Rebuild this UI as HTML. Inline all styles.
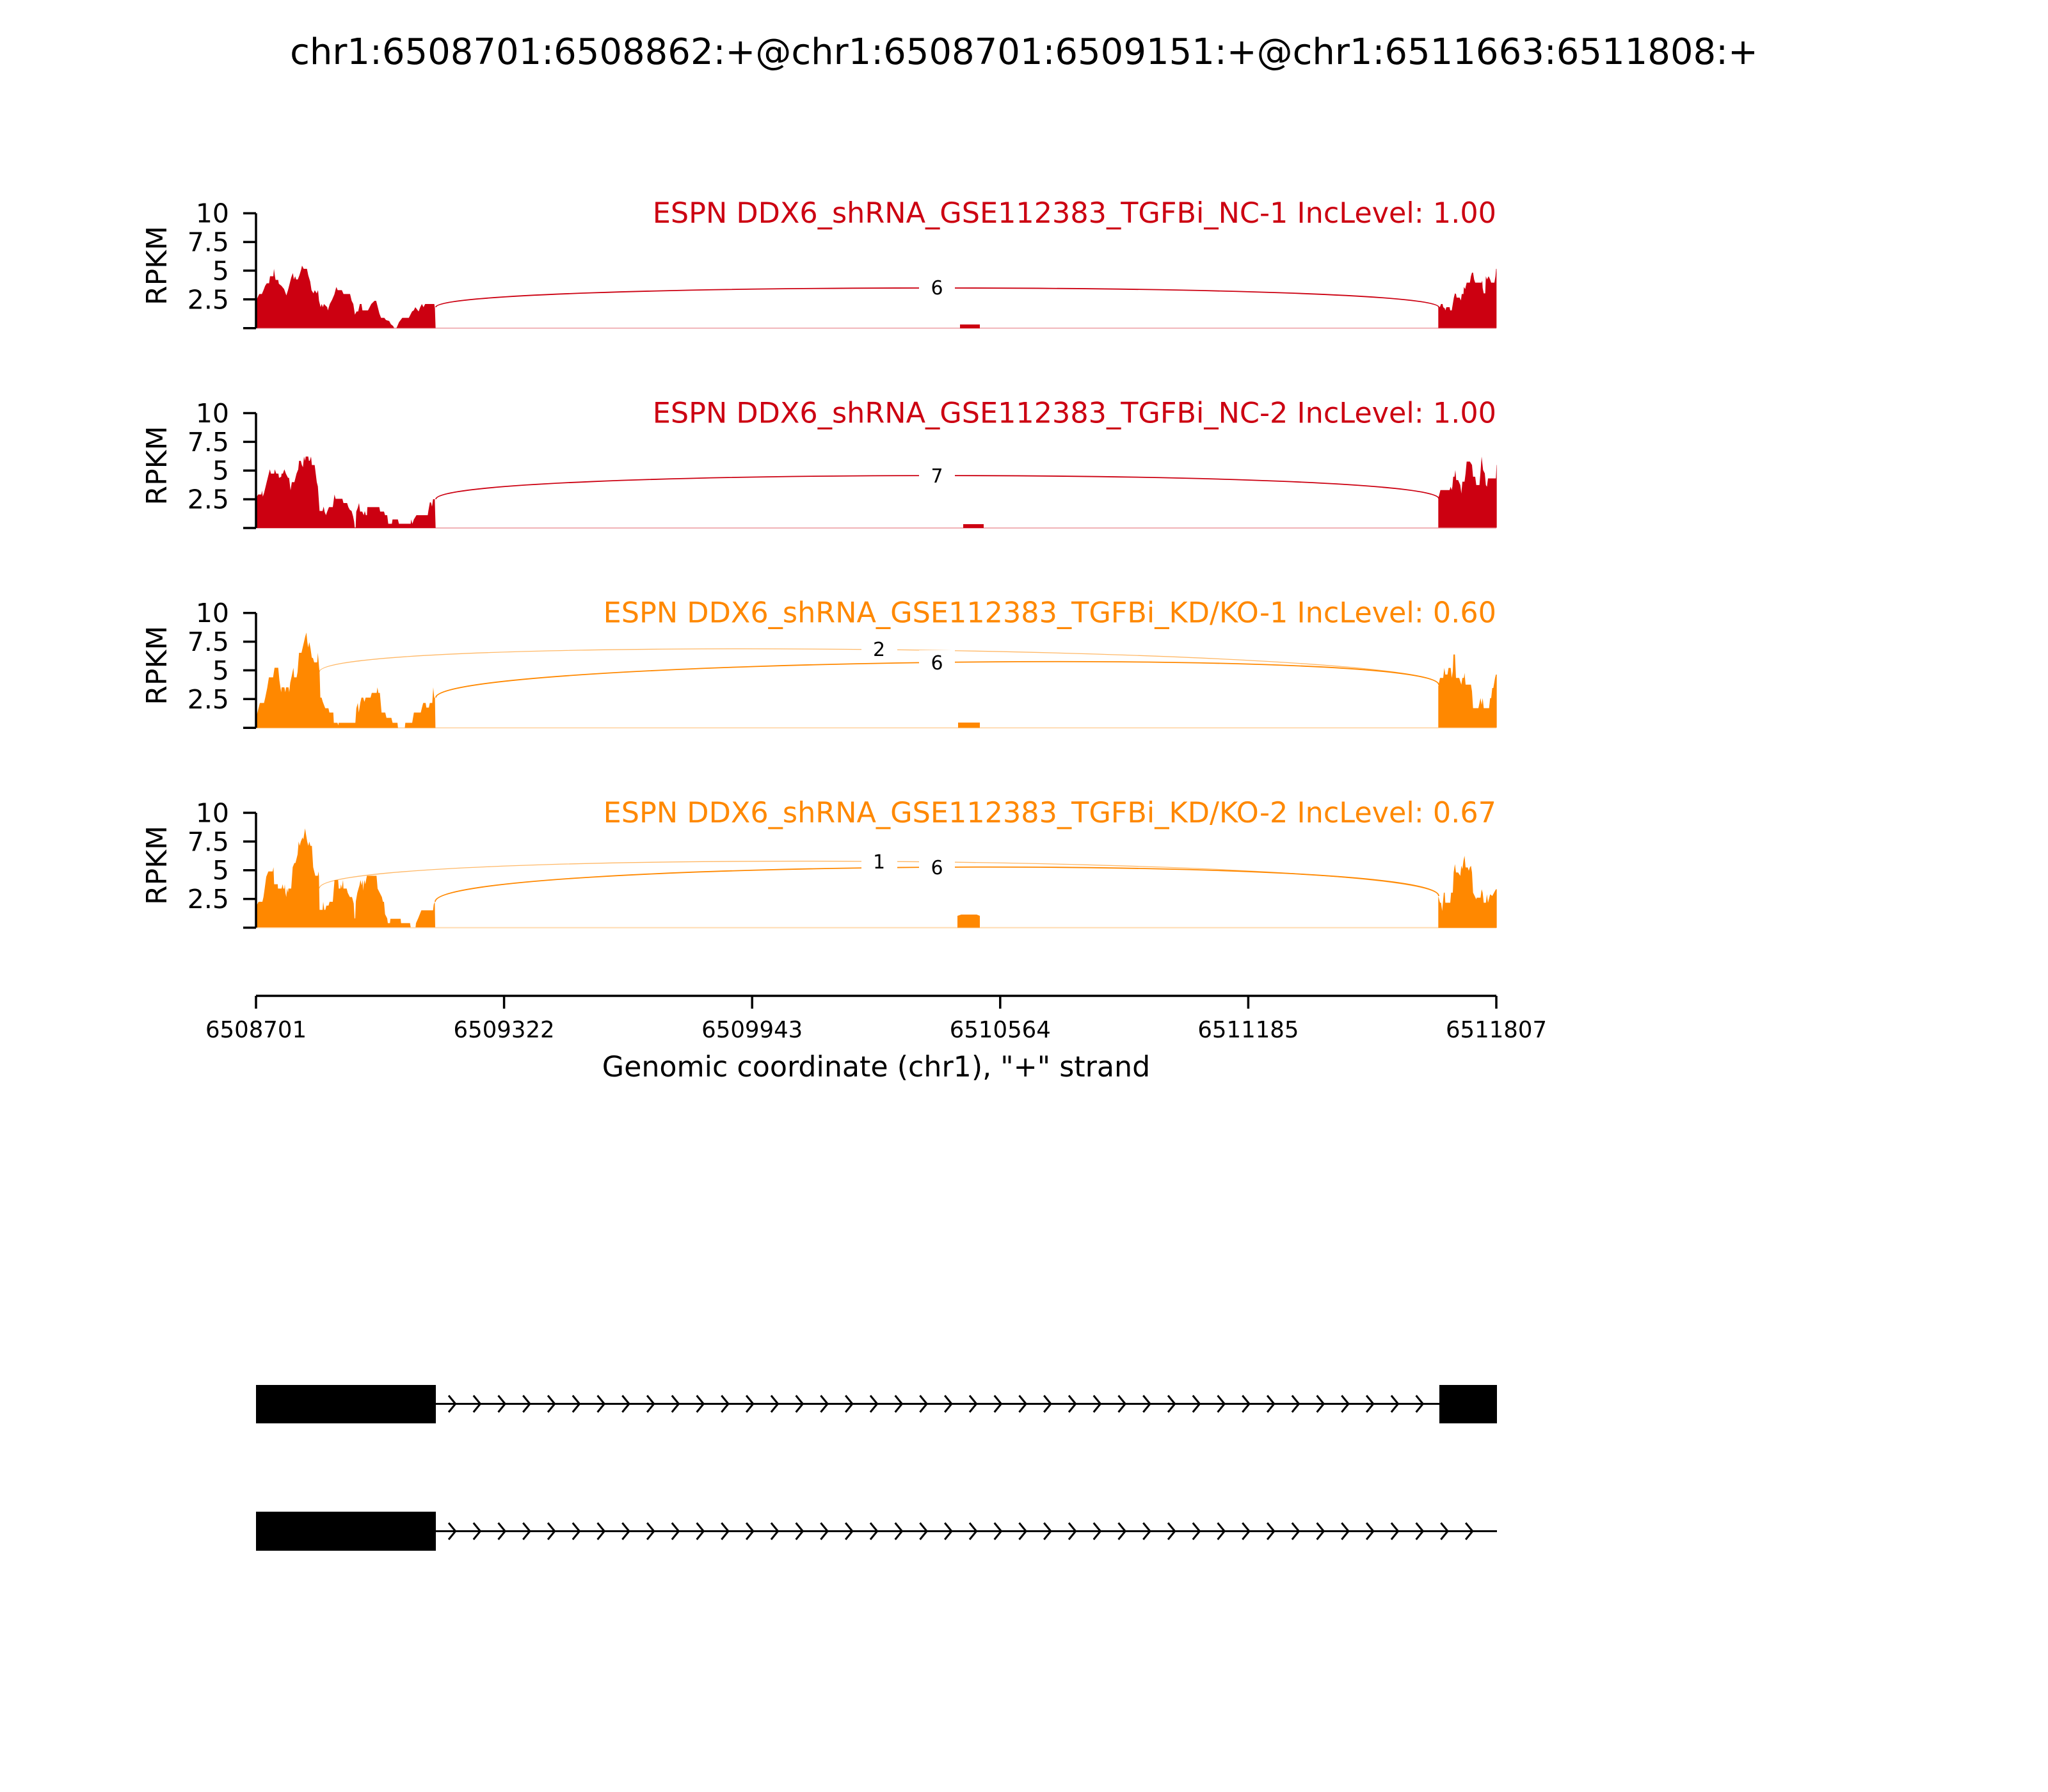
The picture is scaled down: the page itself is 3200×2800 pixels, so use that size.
<!DOCTYPE html>
<html>
<head>
<meta charset="utf-8">
<style>
html,body{margin:0;padding:0;background:#fff;}
svg{display:block;}
text{font-family:"DejaVu Sans","Liberation Sans",sans-serif;}
</style>
</head>
<body>
<svg width="3200" height="2800" viewBox="0 0 3200 2800" xmlns="http://www.w3.org/2000/svg">
<rect x="0" y="0" width="3200" height="2800" fill="#fff"/>

<!-- Title -->
<text x="1600" y="100" font-size="56" text-anchor="middle" fill="#000">chr1:6508701:6508862:+@chr1:6508701:6509151:+@chr1:6511663:6511808:+</text>

<!-- ============ PANEL 1 ============ -->
<line x1="400" y1="512.7" x2="2338" y2="512.7" stroke="#CC0011" stroke-opacity="0.3" stroke-width="2"/>
<g fill="#CC0011">
<polygon transform="translate(200,300) scale(0.5102,0.33333)" points="392,638 392,510 402,478 410,478 415,460 420,440 425,428 432,428 435,395 445,395 447,360 450,395 452,412 460,412 462,430 470,440 478,455 485,485 490,460 495,430 500,400 505,380 508,410 512,395 515,410 520,410 525,390 530,365 533,345 538,360 548,360 552,390 558,420 562,460 568,475 572,460 578,475 582,460 585,510 590,540 593,525 597,540 600,525 610,540 612,555 618,525 625,505 632,480 638,445 642,460 655,460 660,478 680,478 685,510 690,525 695,575 700,560 705,560 710,525 715,525 718,555 735,555 740,540 745,525 755,510 760,510 765,540 770,570 775,590 785,590 790,600 800,605 805,620 812,628 815,638 822,638 825,628 830,610 835,600 840,590 860,590 865,575 870,560 875,555 880,540 885,550 890,560 895,540 900,525 905,540 910,525 915,525 938,525 940,545 942,638"/>
<polygon transform="translate(2200,380) scale(0.33333)" points="142,398 142,300 150,298 155,285 162,285 165,300 172,305 175,315 180,300 195,300 198,315 205,315 210,285 215,255 220,235 225,238 228,255 242,255 248,268 252,238 260,238 262,205 268,215 275,185 290,185 295,155 300,138 305,138 310,170 315,185 345,185 348,175 350,210 355,235 362,235 365,155 370,170 378,155 385,170 390,185 405,185 410,155 413,120 415,120 415,398"/>
<rect x="1500" y="507" width="31" height="6"/>
</g>
<path d="M681,480 C681,440 2248,440 2248,480" fill="none" stroke="#CC0011" stroke-width="1.8"/>
<rect x="1436" y="429" width="56" height="40" fill="#fff"/>
<text x="1464" y="460" font-size="30" text-anchor="middle" fill="#000">6</text>
<text x="2338" y="348" font-size="44.5" text-anchor="end" fill="#CC0011">ESPN DDX6_shRNA_GSE112383_TGFBi_NC-1 IncLevel: 1.00</text>
<g stroke="#000" stroke-width="3.5">
<line x1="400" y1="333.2" x2="400" y2="512.7"/>
<line x1="380" y1="512.7" x2="400" y2="512.7"/>
<line x1="380" y1="467.8" x2="400" y2="467.8"/>
<line x1="380" y1="422.9" x2="400" y2="422.9"/>
<line x1="380" y1="378.1" x2="400" y2="378.1"/>
<line x1="380" y1="333.2" x2="400" y2="333.2"/>
</g>
<g font-size="41" text-anchor="end" fill="#000">
<text x="358" y="482.3">2.5</text>
<text x="358" y="437.4">5</text>
<text x="358" y="392.6">7.5</text>
<text x="358" y="347.7">10</text>
</g>
<text transform="translate(260,415) rotate(-90)" font-size="44" text-anchor="middle" fill="#000">RPKM</text>

<!-- ============ PANEL 2 ============ -->
<line x1="400" y1="825" x2="2338" y2="825" stroke="#CC0011" stroke-opacity="0.3" stroke-width="2"/>
<g fill="#CC0011">
<polygon transform="translate(380,630) scale(0.33333)" points="60,585 60,445 70,428 85,428 88,410 92,438 98,420 110,370 125,310 130,330 145,330 148,310 155,330 165,330 168,350 178,345 180,330 186,330 193,310 200,330 210,350 215,350 222,408 228,370 240,370 245,350 250,330 258,310 262,270 270,270 275,290 280,300 285,250 290,270 293,250 305,250 308,270 312,270 318,250 322,290 335,290 345,370 350,390 358,505 372,505 377,485 382,510 388,525 393,510 402,487 420,487 428,428 433,448 465,448 470,468 487,468 493,487 500,500 508,505 515,530 520,555 523,583 527,583 530,508 537,490 543,468 548,508 558,508 565,525 570,505 575,525 580,525 582,487 638,487 642,508 660,508 665,525 675,525 680,565 697,565 700,545 725,545 730,565 785,565 787,545 793,565 800,545 812,525 865,525 868,505 875,465 880,465 885,485 890,450 898,450 902,585"/>
<polygon transform="translate(2230,640) scale(0.33333,0.52411)" points="52,352 52,265 62,240 105,240 110,230 115,240 118,230 122,200 128,200 132,180 136,210 145,210 155,225 160,250 165,215 175,215 180,190 185,155 200,155 210,165 215,200 225,200 230,225 245,225 250,185 255,140 262,180 270,190 275,225 280,230 285,205 322,205 325,165 326,165 326,352"/>
<rect x="1505" y="819" width="32" height="6"/>
</g>
<path d="M681,780 C681,731 2248,731 2248,779" fill="none" stroke="#CC0011" stroke-width="1.8"/>
<rect x="1436" y="723" width="56" height="40" fill="#fff"/>
<text x="1464" y="754" font-size="30" text-anchor="middle" fill="#000">7</text>
<text x="2338" y="660.5" font-size="44.5" text-anchor="end" fill="#CC0011">ESPN DDX6_shRNA_GSE112383_TGFBi_NC-2 IncLevel: 1.00</text>
<g stroke="#000" stroke-width="3.5">
<line x1="400" y1="645.5" x2="400" y2="825"/>
<line x1="380" y1="825" x2="400" y2="825"/>
<line x1="380" y1="780.1" x2="400" y2="780.1"/>
<line x1="380" y1="735.2" x2="400" y2="735.2"/>
<line x1="380" y1="690.4" x2="400" y2="690.4"/>
<line x1="380" y1="645.5" x2="400" y2="645.5"/>
</g>
<g font-size="41" text-anchor="end" fill="#000">
<text x="358" y="794.6">2.5</text>
<text x="358" y="749.7">5</text>
<text x="358" y="704.9">7.5</text>
<text x="358" y="660">10</text>
</g>
<text transform="translate(260,727.5) rotate(-90)" font-size="44" text-anchor="middle" fill="#000">RPKM</text>

<!-- ============ PANEL 3 ============ -->
<line x1="400" y1="1137.2" x2="2338" y2="1137.2" stroke="#FF8800" stroke-opacity="0.3" stroke-width="2"/>
<g fill="#FF8800">
<polygon transform="translate(380,940) scale(0.38265,0.33333)" points="52,592 56,530 68,475 85,475 90,450 98,405 105,355 122,355 128,310 143,310 148,370 155,425 157,402 168,402 172,425 175,402 185,402 188,425 192,380 198,350 205,310 208,355 218,355 222,330 228,240 238,240 243,215 248,190 253,165 258,145 262,190 265,215 270,190 275,220 280,262 285,265 290,285 302,285 305,240 310,310 312,330 315,450 320,450 325,470 335,500 348,500 352,520 368,520 370,568 385,568 388,580 390,568 458,568 462,500 468,475 472,520 478,475 483,450 490,450 495,470 500,450 520,450 525,428 545,428 548,402 552,428 558,428 565,520 580,520 585,545 605,545 610,568 630,568 632,592 660,592 662,568 690,568 697,520 725,520 730,497 735,475 745,475 748,497 758,497 762,475 772,475 776,402 780,450 783,450 785,592"/>
<polygon transform="translate(2230,640) scale(0.33333,0.52411)" points="52,948 52,825 60,800 75,800 80,770 85,790 95,790 100,770 110,770 115,800 120,780 123,730 130,730 135,800 150,800 160,820 165,800 172,800 175,785 180,820 205,820 210,840 215,890 240,890 250,860 255,880 260,860 265,890 290,890 295,860 300,860 305,830 310,830 318,800 322,790 326,790 326,948"/>
<rect x="1497" y="1129" width="34" height="8.2"/>
</g>
<path d="M499,1050 C499,990 2248,1010 2248,1070" fill="none" stroke="#FF8800" stroke-opacity="0.6" stroke-width="1.3"/>
<path d="M681,1090 C681,1030 2248,1010 2248,1070" fill="none" stroke="#FF8800" stroke-width="1.8"/>
<rect x="1346" y="995" width="56" height="38" fill="#fff"/>
<text x="1373.5" y="1025" font-size="30" text-anchor="middle" fill="#000">2</text>
<rect x="1436" y="1016" width="56" height="38" fill="#fff"/>
<text x="1464" y="1046" font-size="30" text-anchor="middle" fill="#000">6</text>
<text x="2338" y="972.7" font-size="44.5" text-anchor="end" fill="#FF8800">ESPN DDX6_shRNA_GSE112383_TGFBi_KD/KO-1 IncLevel: 0.60</text>
<g stroke="#000" stroke-width="3.5">
<line x1="400" y1="957.7" x2="400" y2="1137.2"/>
<line x1="380" y1="1137.2" x2="400" y2="1137.2"/>
<line x1="380" y1="1092.3" x2="400" y2="1092.3"/>
<line x1="380" y1="1047.4" x2="400" y2="1047.4"/>
<line x1="380" y1="1002.6" x2="400" y2="1002.6"/>
<line x1="380" y1="957.7" x2="400" y2="957.7"/>
</g>
<g font-size="41" text-anchor="end" fill="#000">
<text x="358" y="1106.8">2.5</text>
<text x="358" y="1061.9">5</text>
<text x="358" y="1017.1">7.5</text>
<text x="358" y="972.2">10</text>
</g>
<text transform="translate(260,1039.7) rotate(-90)" font-size="44" text-anchor="middle" fill="#000">RPKM</text>

<!-- ============ PANEL 4 ============ -->
<line x1="400" y1="1449.5" x2="2338" y2="1449.5" stroke="#FF8800" stroke-opacity="0.3" stroke-width="2"/>
<g fill="#FF8800">
<polygon transform="translate(380,1255) scale(0.33333)" points="60,582 60,485 72,462 90,462 95,440 100,405 108,345 118,320 138,320 142,300 145,380 162,380 163,400 180,400 185,380 188,400 193,400 195,380 198,420 202,440 205,400 210,420 212,400 225,400 232,300 240,280 245,280 255,240 260,180 265,200 270,180 278,160 282,170 285,150 290,118 295,150 300,180 305,200 310,180 315,200 322,200 328,300 338,340 350,340 352,320 355,340 358,500 372,500 375,462 380,500 385,500 390,480 400,480 405,462 420,462 428,360 445,360 448,400 455,400 458,380 462,400 468,360 470,400 485,400 490,420 500,440 510,440 518,470 522,540 525,540 528,460 535,420 545,385 550,360 555,385 560,360 562,410 565,380 568,360 572,380 580,340 625,340 630,400 640,420 650,440 655,462 660,462 665,520 675,540 678,562 688,562 690,542 738,542 740,562 782,562 785,582 808,582 810,562 820,540 828,520 835,502 890,502 893,475 898,462 900,582"/>
<polygon transform="translate(2230,640) scale(0.33333,0.52411)" points="52,1545 52,1450 60,1470 65,1470 70,1495 78,1440 82,1440 85,1470 108,1470 112,1440 120,1440 124,1380 130,1355 135,1380 145,1380 155,1390 160,1360 165,1370 170,1345 175,1330 180,1365 190,1365 195,1375 200,1365 205,1360 210,1380 215,1440 230,1460 232,1455 250,1455 255,1430 260,1440 265,1470 275,1470 280,1445 285,1470 295,1445 305,1450 322,1430 326,1430 326,1545"/>
<path d="M1496,1449.5 L1496,1431 L1502,1429 L1526,1429 L1531,1431 L1531,1449.5 Z"/>
</g>
<path d="M499,1388 C499,1324 2248,1336 2248,1400" fill="none" stroke="#FF8800" stroke-opacity="0.6" stroke-width="1.3"/>
<path d="M680,1409 C680,1343 2248,1334 2248,1400" fill="none" stroke="#FF8800" stroke-width="1.8"/>
<rect x="1346" y="1327" width="56" height="38" fill="#fff"/>
<text x="1373.5" y="1357" font-size="30" text-anchor="middle" fill="#000">1</text>
<rect x="1436" y="1336" width="56" height="38" fill="#fff"/>
<text x="1464" y="1366" font-size="30" text-anchor="middle" fill="#000">6</text>
<text x="2338" y="1285" font-size="44.5" text-anchor="end" fill="#FF8800">ESPN DDX6_shRNA_GSE112383_TGFBi_KD/KO-2 IncLevel: 0.67</text>
<g stroke="#000" stroke-width="3.5">
<line x1="400" y1="1270" x2="400" y2="1449.5"/>
<line x1="380" y1="1449.5" x2="400" y2="1449.5"/>
<line x1="380" y1="1404.6" x2="400" y2="1404.6"/>
<line x1="380" y1="1359.7" x2="400" y2="1359.7"/>
<line x1="380" y1="1314.9" x2="400" y2="1314.9"/>
<line x1="380" y1="1270" x2="400" y2="1270"/>
</g>
<g font-size="41" text-anchor="end" fill="#000">
<text x="358" y="1419.1">2.5</text>
<text x="358" y="1374.2">5</text>
<text x="358" y="1329.4">7.5</text>
<text x="358" y="1284.5">10</text>
</g>
<text transform="translate(260,1352) rotate(-90)" font-size="44" text-anchor="middle" fill="#000">RPKM</text>

<!-- ============ X AXIS ============ -->
<g stroke="#000" stroke-width="3.5">
<line x1="400" y1="1556" x2="2338" y2="1556"/>
<line x1="400" y1="1556" x2="400" y2="1576"/>
<line x1="787.6" y1="1556" x2="787.6" y2="1576"/>
<line x1="1175.2" y1="1556" x2="1175.2" y2="1576"/>
<line x1="1562.8" y1="1556" x2="1562.8" y2="1576"/>
<line x1="1950.4" y1="1556" x2="1950.4" y2="1576"/>
<line x1="2338" y1="1556" x2="2338" y2="1576"/>
</g>
<g font-size="35.5" text-anchor="middle" fill="#000">
<text x="400" y="1621">6508701</text>
<text x="787.6" y="1621">6509322</text>
<text x="1175.2" y="1621">6509943</text>
<text x="1562.8" y="1621">6510564</text>
<text x="1950.4" y="1621">6511185</text>
<text x="2338" y="1621">6511807</text>
</g>
<text x="1369" y="1682" font-size="44.3" text-anchor="middle" fill="#000">Genomic coordinate (chr1), "+" strand</text>

<!-- ============ GENE MODELS ============ -->
<!-- transcript 1 -->
<line x1="681" y1="2193.5" x2="2249" y2="2193.5" stroke="#000" stroke-width="3"/>
<rect x="400" y="2164" width="281" height="60" fill="#000"/>
<rect x="2249" y="2164" width="90" height="60" fill="#000"/>
<path fill="none" stroke="#000" stroke-width="3" d="M701,2180.5 l10.7,13l-10.7,13m38.76,-26 l10.7,13l-10.7,13m38.76,-26 l10.7,13l-10.7,13m38.76,-26 l10.7,13l-10.7,13m38.76,-26 l10.7,13l-10.7,13m38.76,-26 l10.7,13l-10.7,13m38.76,-26 l10.7,13l-10.7,13m38.76,-26 l10.7,13l-10.7,13m38.76,-26 l10.7,13l-10.7,13m38.76,-26 l10.7,13l-10.7,13m38.76,-26 l10.7,13l-10.7,13m38.76,-26 l10.7,13l-10.7,13m38.76,-26 l10.7,13l-10.7,13m38.76,-26 l10.7,13l-10.7,13m38.76,-26 l10.7,13l-10.7,13m38.76,-26 l10.7,13l-10.7,13m38.76,-26 l10.7,13l-10.7,13m38.76,-26 l10.7,13l-10.7,13m38.76,-26 l10.7,13l-10.7,13m38.76,-26 l10.7,13l-10.7,13m38.76,-26 l10.7,13l-10.7,13m38.76,-26 l10.7,13l-10.7,13m38.76,-26 l10.7,13l-10.7,13m38.76,-26 l10.7,13l-10.7,13m38.76,-26 l10.7,13l-10.7,13m38.76,-26 l10.7,13l-10.7,13m38.76,-26 l10.7,13l-10.7,13m38.76,-26 l10.7,13l-10.7,13m38.76,-26 l10.7,13l-10.7,13m38.76,-26 l10.7,13l-10.7,13m38.76,-26 l10.7,13l-10.7,13m38.76,-26 l10.7,13l-10.7,13m38.76,-26 l10.7,13l-10.7,13m38.76,-26 l10.7,13l-10.7,13m38.76,-26 l10.7,13l-10.7,13m38.76,-26 l10.7,13l-10.7,13m38.76,-26 l10.7,13l-10.7,13m38.76,-26 l10.7,13l-10.7,13m38.76,-26 l10.7,13l-10.7,13m38.76,-26 l10.7,13l-10.7,13"/>

<!-- transcript 2 -->
<line x1="681" y1="2392.5" x2="2339" y2="2392.5" stroke="#000" stroke-width="3"/>
<rect x="400" y="2362" width="281" height="61" fill="#000"/>
<path fill="none" stroke="#000" stroke-width="3" d="M701,2379.5 l10.7,13l-10.7,13m38.76,-26 l10.7,13l-10.7,13m38.76,-26 l10.7,13l-10.7,13m38.76,-26 l10.7,13l-10.7,13m38.76,-26 l10.7,13l-10.7,13m38.76,-26 l10.7,13l-10.7,13m38.76,-26 l10.7,13l-10.7,13m38.76,-26 l10.7,13l-10.7,13m38.76,-26 l10.7,13l-10.7,13m38.76,-26 l10.7,13l-10.7,13m38.76,-26 l10.7,13l-10.7,13m38.76,-26 l10.7,13l-10.7,13m38.76,-26 l10.7,13l-10.7,13m38.76,-26 l10.7,13l-10.7,13m38.76,-26 l10.7,13l-10.7,13m38.76,-26 l10.7,13l-10.7,13m38.76,-26 l10.7,13l-10.7,13m38.76,-26 l10.7,13l-10.7,13m38.76,-26 l10.7,13l-10.7,13m38.76,-26 l10.7,13l-10.7,13m38.76,-26 l10.7,13l-10.7,13m38.76,-26 l10.7,13l-10.7,13m38.76,-26 l10.7,13l-10.7,13m38.76,-26 l10.7,13l-10.7,13m38.76,-26 l10.7,13l-10.7,13m38.76,-26 l10.7,13l-10.7,13m38.76,-26 l10.7,13l-10.7,13m38.76,-26 l10.7,13l-10.7,13m38.76,-26 l10.7,13l-10.7,13m38.76,-26 l10.7,13l-10.7,13m38.76,-26 l10.7,13l-10.7,13m38.76,-26 l10.7,13l-10.7,13m38.76,-26 l10.7,13l-10.7,13m38.76,-26 l10.7,13l-10.7,13m38.76,-26 l10.7,13l-10.7,13m38.76,-26 l10.7,13l-10.7,13m38.76,-26 l10.7,13l-10.7,13m38.76,-26 l10.7,13l-10.7,13m38.76,-26 l10.7,13l-10.7,13m38.76,-26 l10.7,13l-10.7,13m38.76,-26 l10.7,13l-10.7,13m38.76,-26 l10.7,13l-10.7,13"/>
</svg>
</body>
</html>
